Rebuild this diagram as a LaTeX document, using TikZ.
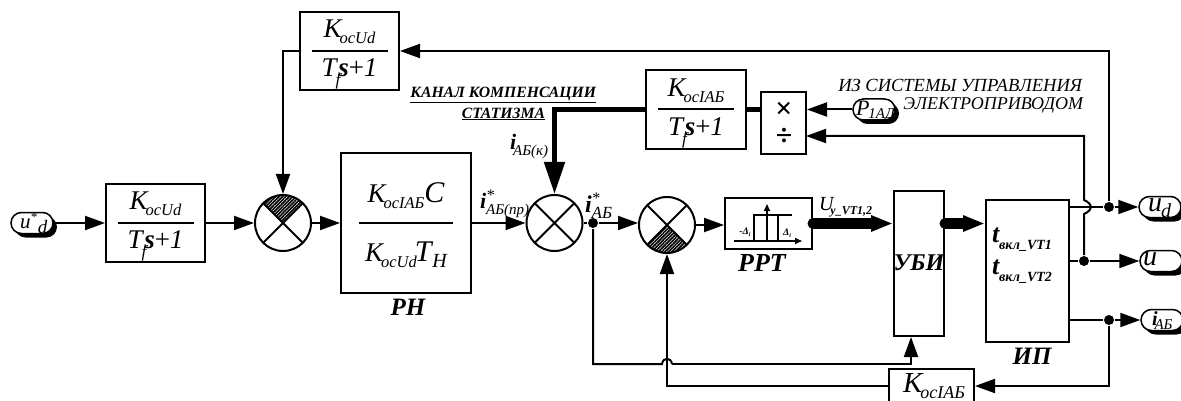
\documentclass[tikz,border=0pt]{standalone}
\usepackage{fontspec}
\setmainfont{Liberation Serif}
\usetikzlibrary{arrows.meta,shapes.misc,shadows,patterns.meta}

\newcommand{\fsz}[1]{\fontsize{#1}{#1}\selectfont}
\newcommand{\bigK}[1]{{\fsz{27}\itshape K}\kern-2pt\raisebox{-6pt}{\fsz{16.5}\itshape #1}}
\newcommand{\lagden}{{\fsz{27}\itshape T}\kern-1pt\raisebox{-9pt}{\fsz{17}\itshape f}\kern-2pt{\fsz{27}\bfseries\itshape s}{\fsz{27}+\itshape 1}}
\newcommand{\pilltext}[2]{\smash{\makebox[36pt][l]{\raisebox{-#1pt}{#2}}}}
\newcommand{\gainbox}[7]{
  \node[blockbox, minimum width=#4pt, minimum height=#5pt] (#1) at (#2,#3) {};
  \node[gaintext, anchor=south] (#1num) at ([yshift=6pt]#1.center) {#6};
  \node[gaintext, anchor=north] (#1den) at ([yshift=-7pt]#1.center) {#7};
  \draw[line width=2pt] ([xshift=-38pt]#1.center) -- ([xshift=38pt]#1.center);
}

\begin{document}
\begin{tikzpicture}[
    x = 1pt, y = -1pt,
    line width = 2pt,
    blockbox/.style = {draw, line width = 2pt, inner sep = 0pt},
    gaintext/.style = {inner sep = 0pt},
    nametext/.style = {inner sep = 0pt, font = \fsz{25}\bfseries\itshape},
    notetext/.style = {inner sep = 0pt, font = \fsz{18}\itshape},
    chantext/.style = {inner sep = 0pt, font = \fsz{15.7}\bfseries\itshape},
    labeltext/.style = {inner sep = 0pt, font = \fsz{15}\itshape},
    flow/.style = {-{Triangle[length=20pt,width=14pt]}},
    bigflow/.style = {line width = 5pt, -{Triangle[length=32pt,width=20pt]}},
    fatflow/.style = {line width = 11pt, line cap = round, -{Triangle[length=22pt,width=15pt]}},
    dotnode/.style = {circle, fill, inner sep = 0pt, minimum size = 10pt},
    pill/.style = {rounded rectangle, draw, fill = white, line width = 1.5pt, inner sep = 0pt,
      minimum width = 42pt, minimum height = 21pt,
      general shadow = {fill = black, shadow xshift = 4pt, shadow yshift = -4pt}},
    sumnode/.style = {circle, draw, line width = 2pt, inner sep = 0pt, minimum size = 56pt,
      path picture = {
        \draw[line width=2pt] (path picture bounding box.north west) -- (path picture bounding box.south east)
          (path picture bounding box.north east) -- (path picture bounding box.south west);}},
    hatchtop/.style = {path picture = {
        \fill[pattern={Lines[angle=45,distance=2.4pt,line width=1.7pt]}] (path picture bounding box.center)
          -- (path picture bounding box.north west) -- (path picture bounding box.north east) -- cycle;
        \draw[line width=2pt] (path picture bounding box.north west) -- (path picture bounding box.south east)
          (path picture bounding box.north east) -- (path picture bounding box.south west);}},
    hatchbottom/.style = {path picture = {
        \fill[pattern={Lines[angle=45,distance=2.4pt,line width=1.7pt]}] (path picture bounding box.center)
          -- (path picture bounding box.south west) -- (path picture bounding box.south east) -- cycle;
        \draw[line width=2pt] (path picture bounding box.north west) -- (path picture bounding box.south east)
          (path picture bounding box.north east) -- (path picture bounding box.south west);}}]

\useasboundingbox (0,0) rectangle (1181,401);
\clip (0,0) rectangle (1181,401);

\node[pill] (refin) at (32,223) {\pilltext{5}{\kern6pt\fsz{21}\itshape u\raisebox{7pt}{\fsz{13}*}\raisebox{-5pt}{\kern1pt\fsz{19}d}}};
\gainbox{lagin}{155.5}{223}{99}{78}{\bigK{ocUd}}{\lagden}
\node[sumnode, hatchtop] (sumU) at (283,223) {};
\gainbox{lagU}{349.5}{51}{99}{78}{\bigK{ocUd}}{\lagden}

\node[blockbox, minimum width=130pt, minimum height=139pt] (regU) at (406,223) {};
\node[gaintext, anchor=south] (regUnum) at ([yshift=13pt]regU.center) {\bigK{ocIAБ}{\fsz{30}\itshape C}};
\node[gaintext, anchor=north] (regUden) at ([yshift=-18pt]regU.center) {\bigK{ocUd}\kern-2pt{\fsz{30}\itshape T}\raisebox{-6pt}{\fsz{20}\itshape\kern1pt Н}};
\draw[line width=1.5pt] ([xshift=-47pt]regU.center) -- ([xshift=47pt]regU.center);
\node[nametext] (regUname) at (408,307) {РН};

\node[sumnode] (sumI) at (554.5,223) {};
\gainbox{lagI}{696}{109.5}{100}{79}{\bigK{ocIAБ}}{\lagden}
\node[blockbox, minimum width=45pt, minimum height=62pt] (mult) at (783.5,123) {};
\node[gaintext] (multtop) at (784,110) {\fsz{30}\bfseries ×};
\node[gaintext] (multbot) at (784,137) {\fsz{30}\bfseries ÷};

\node[dotnode] (branchI) at (593,223) {};
\node[sumnode, hatchbottom] (sumE) at (667,225) {};

\node[blockbox, minimum width=87pt, minimum height=51pt] (relay) at (768.5,223.5) {};
\node[nametext, font=\fsz{26}\bfseries\itshape] (relayname) at (762,263) {РРТ};
\coordinate (axisL) at (734,241);
\coordinate (axisR) at (802,241);
\coordinate (axisT) at (767,204);
\draw[line width=1.5pt, -{Triangle[length=7pt,width=6pt]}] (axisL) -- (axisR);
\draw[line width=1.5pt, -{Triangle[length=7pt,width=6pt]}] (axisL -| axisT) -- (axisT);
\draw[line width=1.5pt] (754,241) -- (754,215) -- (792,215) (778,215) -- (778,241);
\node[gaintext] (relayneg) at (745,232) {\fsz{10}\bfseries\itshape -Δ\raisebox{-2pt}{\fsz{6}i}};
\node[gaintext] (relaypos) at (787,233) {\fsz{10}\bfseries\itshape Δ\raisebox{-2pt}{\fsz{6}i}};

\node[blockbox, minimum width=50pt, minimum height=145pt] (ubi) at (919,263.5) {};
\node[nametext, font=\fsz{24}\bfseries\itshape] (ubiname) at (919,263) {УБИ};
\node[blockbox, minimum width=83pt, minimum height=142pt] (ip) at (1027.5,271) {};
\node[nametext] (ipname) at (1032,356) {ИП};
\node[gaintext, anchor=west] (ipone) at (991,240) {{\fsz{26}\bfseries\itshape t}\raisebox{-7pt}{\fsz{14}\bfseries\itshape вкл\_VT1}};
\node[gaintext, anchor=west] (iptwo) at (991,272) {{\fsz{26}\bfseries\itshape t}\raisebox{-7pt}{\fsz{14}\bfseries\itshape вкл\_VT2}};

\node[blockbox, minimum width=85pt, minimum height=34pt] (gainI) at (931.5,386) {};
\node[gaintext] (gainItext) at (934,386) {{\fsz{29}\itshape K}\kern-2pt\raisebox{-6pt}{\fsz{18}\itshape ocIAБ}};

\node[pill] (powerin) at (874,109.5) {\pilltext{6}{\fsz{22}\itshape P\kern-1pt\raisebox{-3pt}{\fsz{15}1АД}}};
\node[pill] (udout) at (1160,207) {\pilltext{5}{\kern6pt\fsz{28}\itshape u\raisebox{-5pt}{\fsz{20}\kern-1pt d}}};
\node[pill] (uout) at (1161,261) {\pilltext{4}{\fsz{28}\itshape u}};
\node[pill] (iout) at (1162,320) {\pilltext{5}{\kern8pt\fsz{20}\bfseries\itshape i\kern-3pt\raisebox{-4pt}{\mdseries\fsz{15}АБ}}};

\node[dotnode] (branchUd) at (1109,207) {};
\node[dotnode] (branchU) at (1084,261) {};
\node[dotnode] (branchIb) at (1109,320) {};
\coordinate (jumpE) at (667,364);
\coordinate (jumpU) at (1084,207);
\coordinate (multin) at (806,136);

\node[notetext, anchor=east, font=\fsz{18.5}\itshape] (notefrom) at (1083,85) {ИЗ СИСТЕМЫ УПРАВЛЕНИЯ};
\node[notetext, anchor=east] (notedrive) at (1084,105) {ЭЛЕКТРОПРИВОДОМ};
\node[chantext, anchor=east] (notechan) at (597,95) {\underline{КАНАЛ КОМПЕНСАЦИИ}};
\node[chantext, anchor=east] (notedroop) at (546,114) {\underline{СТАТИЗМА}};

\node[labeltext, anchor=west] (labelref) at (479,204) {{\fsz{22}\bfseries\itshape i}\raisebox{8pt}{\fsz{16}*}\kern-8pt\raisebox{-6pt}{АБ(пр)}};
\node[labeltext, anchor=west] (labelcomp) at (509,146) {{\fsz{22}\bfseries\itshape i}\kern-3pt\raisebox{-6pt}{АБ(к)}};
\node[labeltext, anchor=west] (labelstar) at (584,206) {{\fsz{24}\bfseries\itshape i}\raisebox{9pt}{\fsz{16}*}\kern-8pt\raisebox{-6pt}{\fsz{17}АБ}};
\node[labeltext, anchor=west] (labelctrl) at (818,207) {{\fsz{20}\itshape U}\kern-3pt\raisebox{-4pt}{\fsz{12}\bfseries\itshape y\_VT1,2}};

\draw[flow] (refin.east) -- (lagin.west);
\draw[flow] (lagin.east) -- (sumU.west);
\draw[flow] (sumU.east) -- (regU.west);
\draw[flow] (lagU.west) -| (sumU.north);
\draw[flow] (regU.east) -- (sumI.west);
\draw[bigflow] (lagI.west) -| (sumI.north);
\draw[line width=5pt] (lagI.east) -- (lagI.east -| mult.west);
\draw (sumI.east) -- (branchI);
\draw[flow] (branchI) -- (branchI -| sumE.west);
\draw[flow] (sumE.east) -- (sumE.east -| relay.west);
\draw[fatflow] (relay.east) -- (relay.east -| ubi.west);
\draw[fatflow] (relay.east -| ubi.east) -- (relay.east -| ip.west);
\draw[flow] (powerin.west) -- (powerin.west -| mult.east);
\draw[flow] (branchU) -- ([yshift=-7pt]jumpU) .. controls ([xshift=9pt,yshift=-3pt]jumpU) and ([xshift=9pt,yshift=3pt]jumpU) .. ([yshift=7pt]jumpU) |- (multin);
\draw (branchI) |- ([xshift=-5pt]jumpE) .. controls ([xshift=-4pt,yshift=7pt]jumpE) and ([xshift=4pt,yshift=7pt]jumpE) .. ([xshift=5pt]jumpE);
\draw[flow] ([xshift=5pt]jumpE) -| ([xshift=-8pt]ubi.south);
\draw[flow] (gainI.west) -| (sumE.south);
\draw (ip.east |- branchUd) -- (branchUd);
\draw (ip.east |- branchU) -- (branchU);
\draw (ip.east |- branchIb) -- (branchIb);
\draw[flow] (branchUd) -- (udout.west);
\draw[flow] (branchU) -- (uout.west);
\draw[flow] (branchIb) -- (iout.west);
\draw[flow] (branchUd) |- (lagU.east);
\draw[flow] (branchIb) |- (gainI.east);
\end{tikzpicture}
\end{document}
